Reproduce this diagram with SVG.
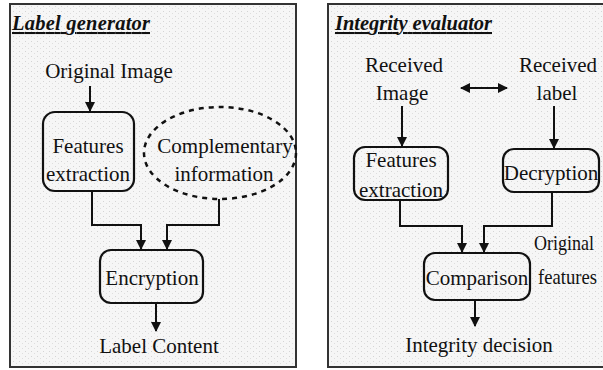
<svg xmlns="http://www.w3.org/2000/svg" width="603" height="370" viewBox="0 0 603 370">
<defs>
<marker id="ah" markerWidth="10" markerHeight="10" refX="9" refY="5" orient="auto" markerUnits="userSpaceOnUse"><path d="M0,0 L10,5 L0,10 Z" fill="#111"/></marker>
<marker id="ahs" markerWidth="10" markerHeight="10" refX="1" refY="5" orient="auto" markerUnits="userSpaceOnUse"><path d="M10,0 L0,5 L10,10 Z" fill="#111"/></marker>
<pattern id="dots" width="6" height="5" patternUnits="userSpaceOnUse"><rect width="6" height="5" fill="#f6f6f6"/><rect x="1" y="1" width="1" height="1" fill="#d4d4d4"/><rect x="4" y="3" width="1" height="1" fill="#dedede"/></pattern>
</defs>
<style>
.panel{fill:url(#dots);stroke:#333;stroke-width:2}
.box{fill:none;stroke:#111;stroke-width:2.2}
.t{font-family:"Liberation Serif","Times New Roman",serif;font-size:21px;fill:#111;text-anchor:middle}
.h{font-family:"Liberation Serif","Times New Roman",serif;font-size:20.5px;font-weight:bold;font-style:italic;fill:#111;text-decoration:underline}
.c{fill:none;stroke:#111;stroke-width:2}
</style>
<rect width="603" height="370" fill="#fff"/>
<g id="panel-left">
<rect class="panel" x="10" y="4" width="286" height="363"/>
<text class="h" x="12" y="30" textLength="138">Label  generator</text>
</g>
<g id="panel-right">
<rect class="panel" x="328" y="4" width="290" height="363"/>
<text class="h" x="335" y="30" textLength="157">Integrity evaluator</text>
</g>
<g id="original-image"><text class="t" x="109" y="78">Original Image</text></g>
<g id="features-left"><rect class="box" x="43" y="112" width="91" height="79" rx="12"/><text class="t" x="88" y="153">Features</text><text class="t" x="88" y="181">extraction</text></g>
<g id="complementary"><ellipse cx="220" cy="153" rx="76" ry="46" fill="none" stroke="#111" stroke-width="2.5" stroke-dasharray="5,5"/><text class="t" x="225" y="153">Complementary</text><text class="t" x="224" y="181">information</text></g>
<g id="encryption"><rect class="box" x="100" y="250" width="103" height="53" rx="11"/><text class="t" x="152" y="285">Encryption</text></g>
<g id="label-content"><text class="t" x="159" y="353">Label Content</text></g>
<g id="received-image"><text class="t" x="404" y="72">Received</text><text class="t" x="402" y="100">Image</text></g>
<g id="received-label"><text class="t" x="558" y="72">Received</text><text class="t" x="557" y="100">label</text></g>
<g id="features-right"><rect class="box" x="354" y="147" width="94" height="53" rx="11"/><text class="t" x="401" y="167">Features</text><text class="t" x="401" y="197">extraction</text></g>
<g id="decryption"><rect class="box" x="503" y="149" width="96" height="43" rx="11"/><text class="t" x="551" y="180">Decryption</text></g>
<g id="comparison"><rect class="box" x="424" y="253" width="106" height="47" rx="11"/><text class="t" x="477" y="285">Comparison</text></g>
<g id="original-features"><text class="t" x="534" y="250" style="text-anchor:start" textLength="60" lengthAdjust="spacingAndGlyphs">Original</text><text class="t" x="538" y="284" style="text-anchor:start" textLength="59" lengthAdjust="spacingAndGlyphs">features</text></g>
<g id="integrity-decision"><text class="t" x="479" y="352">Integrity decision</text></g>
<g id="connectors">
<path class="c" d="M90,86 V111" marker-end="url(#ah)"/>
<path class="c" d="M92,191 V225 H141 V249" marker-end="url(#ah)"/>
<path class="c" d="M219,199 V225 H167 V249" marker-end="url(#ah)"/>
<path class="c" d="M156,303 V331" marker-end="url(#ah)"/>
<path class="c" d="M402,106 V146" marker-end="url(#ah)"/>
<path class="c" d="M554,106 V148" marker-end="url(#ah)"/>
<path class="c" d="M461,88 H507" marker-start="url(#ahs)" marker-end="url(#ah)"/>
<path class="c" d="M400,200 V226 H462 V252" marker-end="url(#ah)"/>
<path class="c" d="M552,192 V226 H484 V252" marker-end="url(#ah)"/>
<path class="c" d="M475,300 V326" marker-end="url(#ah)"/>
</g>
</svg>
